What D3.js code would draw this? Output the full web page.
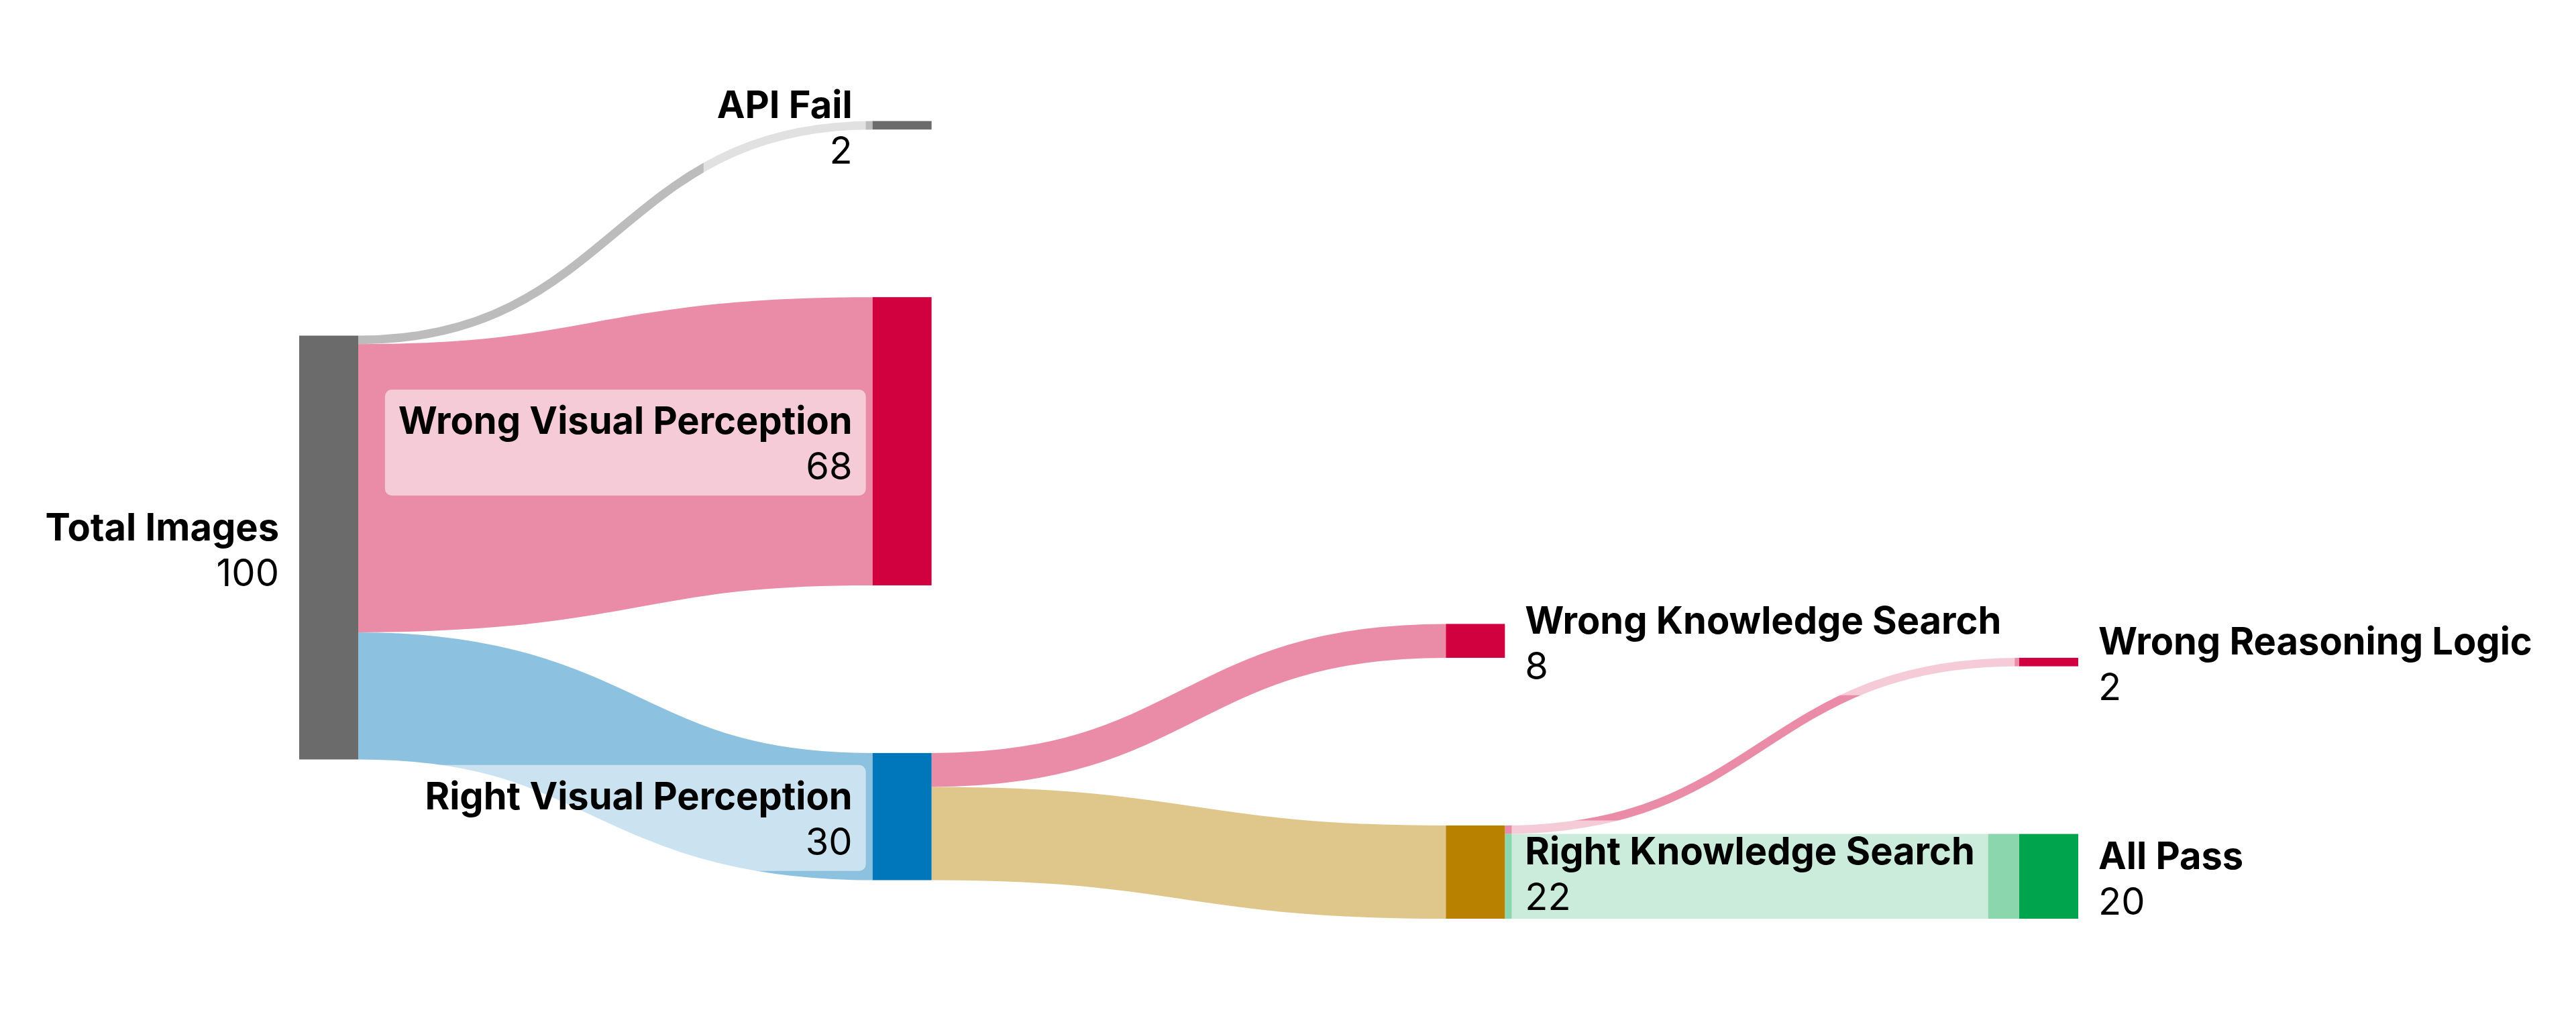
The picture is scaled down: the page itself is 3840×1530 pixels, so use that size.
<!DOCTYPE html>
<html>
<head>
<meta charset="utf-8">
<script src="https://cdn.jsdelivr.net/npm/d3@7"></script>
<style>
  html, body { margin: 0; padding: 0; background: #fff; }
  svg { display: block; font-family: Inter, "Noto Sans", sans-serif; }
</style>
</head>
<body>
<script>

// ---- data ----
var nodeNames = ["Total Images", "API Fail", "Wrong Visual Perception", "Right Visual Perception",
                 "Wrong Knowledge Search", "Right Knowledge Search", "Wrong Reasoning Logic", "All Pass"];
var nodeColors = ["#6b6b6b", "#6b6b6b", "#d1003f", "#0077bb", "#d1003f", "#b88200", "#d1003f", "#00a44c"];
var linkSources = [0, 0, 0, 3, 3, 5, 5];
var linkTargets = [1, 2, 3, 4, 5, 6, 7];
var linkValues  = [2, 68, 30, 8, 22, 2, 20];

var width = 3840, height = 1530;
var nodeWidth = 88;
var LAYOUT = { y0: 50, y1: 1370, py: 250, iterations: 2 };
var colX = d3.scaleLinear().domain([0, 3]).range([446, 3010]);
var flow = d3.scaleLinear().domain([0, 100]).range([0, 632]);

var buildGraph = function() {
	var nodes = nodeNames.map(function(name, i) {
		return { name: name, index: i, color: nodeColors[i], sourceLinks: [], targetLinks: [] };
	});
	var links = linkValues.map(function(v, i) {
		return { index: i, source: nodes[linkSources[i]], target: nodes[linkTargets[i]], value: v };
	});
	links.forEach(function(l) { l.source.sourceLinks.push(l); l.target.targetLinks.push(l); });
	nodes.forEach(function(n) {
		n.value = Math.max(d3.sum(n.sourceLinks, function(l) { return l.value; }),
		                   d3.sum(n.targetLinks, function(l) { return l.value; }));
	});
	var current = nodes.filter(function(n) { return !n.targetLinks.length; }), depth = 0;
	while (current.length) {
		var next = new Set();
		current.forEach(function(n) { n.depth = depth; n.sourceLinks.forEach(function(l) { next.add(l.target); }); });
		current = Array.from(next); depth++;
	}
	nodes.forEach(function(n) { n.x0 = colX(n.depth); n.x1 = n.x0 + nodeWidth; });
	links.forEach(function(l) { l.width = flow(l.value); });
	var columns = d3.groups(nodes, function(n) { return n.depth; })
		.sort(function(a, b) { return a[0] - b[0]; }).map(function(d) { return d[1]; });
	return { nodes: nodes, links: links, columns: columns };
};

var ascBreadth = function(a, b) { return a.y0 - b.y0; };
var ascSource = function(a, b) { return ascBreadth(a.source, b.source) || a.index - b.index; };
var ascTarget = function(a, b) { return ascBreadth(a.target, b.target) || a.index - b.index; };

var linkBreadths = function(g) {
	g.nodes.forEach(function(n) {
		n.sourceLinks.sort(ascTarget); n.targetLinks.sort(ascSource);
		var a = n.y0, b = n.y0;
		n.sourceLinks.forEach(function(l) { l.y0 = a + l.width / 2; a += l.width; });
		n.targetLinks.forEach(function(l) { l.y1 = b + l.width / 2; b += l.width; });
	});
};

// sankey relaxation, d3-sankey style
var layout = function(g, p) {
	var y0 = p.y0, y1 = p.y1, py = p.py;
	var reorder = function(n) {
		n.targetLinks.forEach(function(l) { l.source.sourceLinks.sort(ascTarget); });
		n.sourceLinks.forEach(function(l) { l.target.targetLinks.sort(ascSource); });
	};
	var targetTop = function(s, t) {
		var y = s.y0 - (s.sourceLinks.length - 1) * py / 2;
		for (var i = 0; i < s.sourceLinks.length; i++) { var l = s.sourceLinks[i]; if (l.target === t) break; y += l.width + py; }
		for (var j = 0; j < t.targetLinks.length; j++) { var k = t.targetLinks[j]; if (k.source === s) break; y -= k.width; }
		return y;
	};
	var sourceTop = function(s, t) {
		var y = t.y0 - (t.targetLinks.length - 1) * py / 2;
		for (var i = 0; i < t.targetLinks.length; i++) { var l = t.targetLinks[i]; if (l.source === s) break; y += l.width + py; }
		for (var j = 0; j < s.sourceLinks.length; j++) { var k = s.sourceLinks[j]; if (k.target === t) break; y -= k.width; }
		return y;
	};
	var down = function(col, y, i, a) {
		for (; i < col.length; ++i) { var n = col[i], dy = (y - n.y0) * a; if (dy > 1e-6) { n.y0 += dy; n.y1 += dy; } y = n.y1 + py; }
	};
	var up = function(col, y, i, a) {
		for (; i >= 0; --i) { var n = col[i], dy = (n.y1 - y) * a; if (dy > 1e-6) { n.y0 -= dy; n.y1 -= dy; } y = n.y0 - py; }
	};
	var resolve = function(col, a) {
		var i = col.length >> 1, s = col[i];
		up(col, s.y0 - py, i - 1, a); down(col, s.y1 + py, i + 1, a);
		up(col, y1, col.length - 1, a); down(col, y0, 0, a);
	};
	g.columns.forEach(function(col) {
		var y = y0;
		col.forEach(function(n) { n.y0 = y; n.y1 = y + flow(n.value); y = n.y1 + py; });
		y = (y1 - y + py) / (col.length + 1);
		col.forEach(function(n, i) { n.y0 += y * (i + 1); n.y1 += y * (i + 1); });
		col.forEach(function(n) { n.sourceLinks.sort(ascTarget); n.targetLinks.sort(ascSource); });
	});
	for (var it = 0; it < p.iterations; ++it) {
		var alpha = Math.pow(0.99, it), beta = Math.max(1 - alpha, (it + 1) / p.iterations);
		for (var c = g.columns.length - 2; c >= 0; --c) {
			var col = g.columns[c];
			col.forEach(function(s) {
				var y = 0, w = 0;
				s.sourceLinks.forEach(function(l) { var v = l.value * (l.target.depth - s.depth); y += sourceTop(s, l.target) * v; w += v; });
				if (!(w > 0)) return;
				var dy = (y / w - s.y0) * alpha; s.y0 += dy; s.y1 += dy; reorder(s);
			});
			col.sort(ascBreadth); resolve(col, beta);
		}
		for (var c2 = 1; c2 < g.columns.length; ++c2) {
			var col2 = g.columns[c2];
			col2.forEach(function(t) {
				var y = 0, w = 0;
				t.targetLinks.forEach(function(l) { var v = l.value * (t.depth - l.source.depth); y += targetTop(l.source, t) * v; w += v; });
				if (!(w > 0)) return;
				var dy = (y / w - t.y0) * alpha; t.y0 += dy; t.y1 += dy; reorder(t);
			});
			col2.sort(ascBreadth); resolve(col2, beta);
		}
	}
	// centre the origin node on the weighted middle of what it feeds
	g.columns[0].forEach(function(s) {
		var c = d3.sum(s.sourceLinks, function(l) { return (l.target.y0 + l.target.y1) / 2 * l.value; }) /
		        d3.sum(s.sourceLinks, function(l) { return l.value; });
		var h = s.y1 - s.y0;
		s.y0 = c - h / 2; s.y1 = c + h / 2;
	});
	linkBreadths(g);
	return g;
};

var graph = layout(buildGraph(), LAYOUT);

var svg = d3.select("body").append("svg").attr("width", width).attr("height", height);

var linkPath = d3.linkHorizontal()
	.source(function(d) { return [d.source.x1, d.y0]; })
	.target(function(d) { return [d.target.x0, d.y1]; });

svg.append("g").attr("fill", "none")
	.selectAll("path").data(graph.links).join("path")
	.attr("d", linkPath)
	.attr("stroke", function(d) { return d.target.color; })
	.attr("stroke-opacity", 0.45)
	.attr("stroke-width", function(d) { return Math.max(1, d.width); });

svg.append("g")
	.selectAll("rect").data(graph.nodes).join("rect")
	.attr("x", function(d) { return d.x0; })
	.attr("y", function(d) { return d.y0; })
	.attr("width", function(d) { return d.x1 - d.x0; })
	.attr("height", function(d) { return d.y1 - d.y0; })
	.attr("fill", function(d) { return d.color; });

// labels: name + value, on a translucent white plate
svg.append("g").selectAll("g").data(graph.nodes).join("g").each(function(d) {
	var g = d3.select(this);
	var left = d.x0 < width / 2;
	var x = left ? d.x0 - 30 : d.x1 + 30;
	var cy = (d.y0 + d.y1) / 2;
	var box = g.append("rect");
	var t = g.append("text").attr("text-anchor", left ? "end" : "start").attr("font-size", 56).attr("fill", "#000");
	t.append("tspan").attr("x", x).attr("y", cy - 11).attr("font-weight", 700).text(d.name);
	t.append("tspan").attr("x", x).attr("y", cy + 57).text(d.value);
	var bb = t.node().getBBox();
	box.attr("x", bb.x - 20).attr("y", bb.y - 12).attr("width", bb.width + 40).attr("height", bb.height + 22)
		.attr("rx", 10).attr("fill", "#fff").attr("fill-opacity", 0.55);
});

</script>
</body>
</html>
